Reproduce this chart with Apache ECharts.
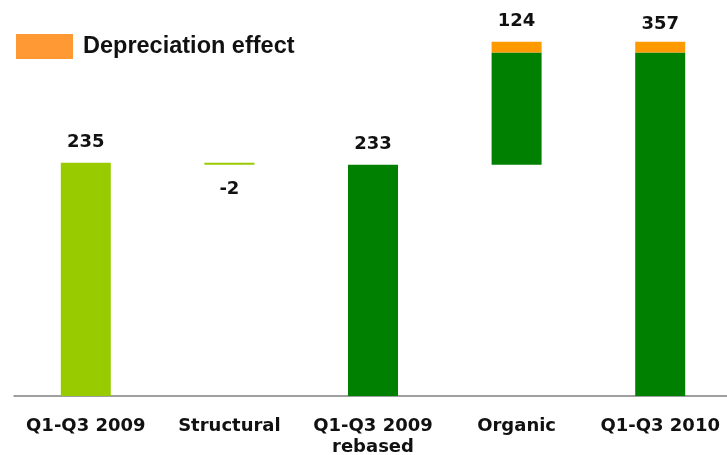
<!DOCTYPE html>
<html><head><meta charset="utf-8">
<script src="https://cdn.jsdelivr.net/npm/echarts@6/dist/echarts.min.js"></script>
<style>html,body{margin:0;padding:0;background:#fff}#c{width:727px;height:455px}</style>
</head><body><div id="c"></div>
<script>
var categories = ['Q1-Q3 2009', 'Structural', 'Q1-Q3 2009\nrebased', 'Organic', 'Q1-Q3 2010'];
var baseVals = [0, 233, 0, 233, 0];
var lightVals = [235, 2, null, null, null];
var darkVals = [null, null, 233, 113, 346];
var deprVals = [null, null, null, 11, 11];
var totalLabels = ['235', '-2', '233', '124', '357'];

var labelFont = {fontFamily: 'DejaVu Sans', fontWeight: 'bold', fontSize: 18, color: '#111'};
function mk(vals, topIdx, opts) {
  return vals.map(function (v, i) {
    if (v === null) return '-';
    var item = {value: v};
    if (topIdx(i)) {
      var o = opts[i] || {};
      item.label = Object.assign({show: true, position: o.position || 'top', distance: o.distance != null ? o.distance : 11,
        formatter: totalLabels[i]}, labelFont);
    }
    return item;
  });
}
var lopts = {0: {}, 1: {position: 'bottom', distance: 16}, 2: {}, 3: {distance: 11}, 4: {distance: 8}};
var chart = echarts.init(document.getElementById('c'));
chart.setOption({
  animation: false,
  grid: {left: 14, right: -5, top: 0, bottom: 59, containLabel: false, outerBoundsMode: 'none'},
  legend: {
    left: 16, top: 34, padding: 0, itemWidth: 57, itemHeight: 25, icon: 'rect',
    data: [{name: 'Depreciation effect', itemStyle: {color: '#FF9933'}}],
    textStyle: {fontFamily: 'Liberation Sans', fontWeight: 'bold', fontSize: 23.5, color: '#111', padding: [0, 0, 0, 5]}
  },
  xAxis: {
    type: 'category', data: categories,
    axisLine: {lineStyle: {color: '#808080', width: 1.5}},
    axisTick: {show: false},
    axisLabel: {interval: 0, margin: 20, lineHeight: 21, fontFamily: 'DejaVu Sans', fontWeight: 'bold', fontSize: 18, color: '#111'}
  },
  yAxis: {type: 'value', min: 0, max: 399, show: false, splitLine: {show: false}},
  series: [
    {name: 'base', type: 'bar', stack: 't', barWidth: 50, data: baseVals, itemStyle: {color: 'rgba(0,0,0,0)'}, silent: true},
    {name: 'light', type: 'bar', stack: 't', barWidth: 50, itemStyle: {color: '#99CC00'},
      data: mk(lightVals, function (i) { return i === 0 || i === 1; }, lopts)},
    {name: 'dark', type: 'bar', stack: 't', barWidth: 50, itemStyle: {color: '#008000'},
      data: mk(darkVals, function (i) { return i === 2; }, lopts)},
    {name: 'Depreciation effect', type: 'bar', stack: 't', barWidth: 50, itemStyle: {color: '#FF9900'},
      data: mk(deprVals, function (i) { return i === 3 || i === 4; }, lopts)}
  ]
});
</script></body></html>
